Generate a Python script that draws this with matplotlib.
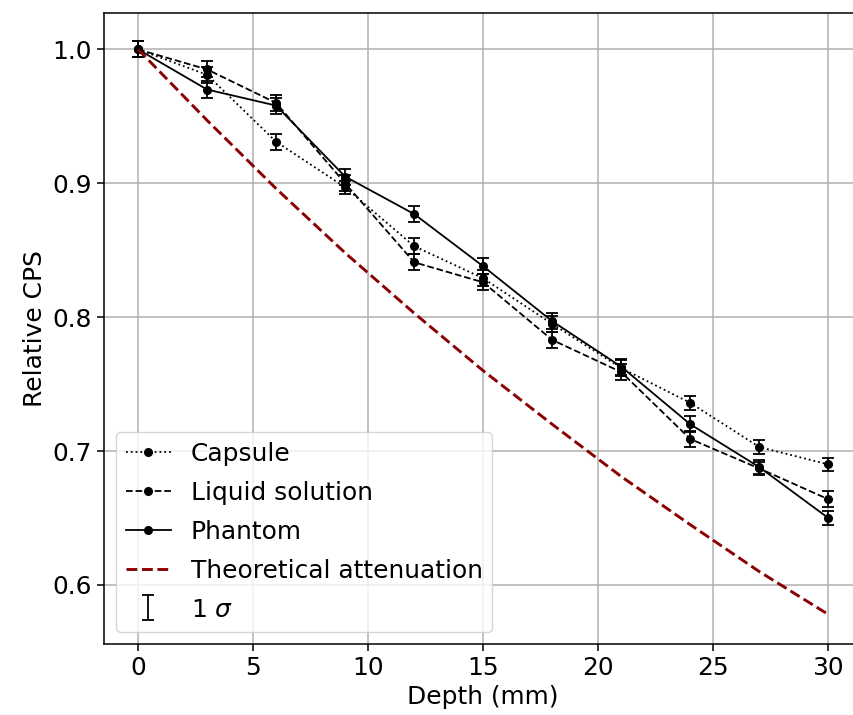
import numpy as np
import matplotlib.pyplot as plt

# Depth points (mm)
depth = [0, 3, 6, 9, 12, 15, 18, 21, 24, 27, 30]

# Relative CPS
capsule = [1.000, 0.981, 0.931, 0.897, 0.853, 0.829, 0.795, 0.762, 0.736, 0.703, 0.690]
capsule_err = [0.006, 0.006, 0.006, 0.005, 0.006, 0.006, 0.006, 0.006, 0.005, 0.005, 0.005]

liquid = [1.000, 0.985, 0.960, 0.900, 0.841, 0.826, 0.783, 0.759, 0.709, 0.687, 0.664]
liquid_err = [0.006, 0.006, 0.006, 0.006, 0.006, 0.006, 0.006, 0.006, 0.006, 0.005, 0.006]

phantom = [1.000, 0.970, 0.958, 0.905, 0.877, 0.838, 0.797, 0.763, 0.720, 0.688, 0.650]
phantom_err = [0.006, 0.006, 0.006, 0.006, 0.006, 0.006, 0.006, 0.006, 0.006, 0.005, 0.005]

# Theoretical attenuation curve (read at each depth point)
theo_depth = [0, 3, 6, 9, 12, 15, 18, 21, 24, 27, 30]
theo = [1.000, 0.947, 0.896, 0.848, 0.803, 0.760, 0.720, 0.681, 0.645, 0.610, 0.578]

plt.rcParams['font.size'] = 17.9

fig = plt.figure(figsize=(8.54, 7.15), dpi=100)
ax = fig.add_axes([0.1212, 0.0993, 0.8891, 0.8832])

series = [
    (capsule, capsule_err, ':', 'Capsule'),
    (liquid, liquid_err, '--', 'Liquid solution'),
    (phantom, phantom_err, '-', 'Phantom'),
]
for y, err, ls, name in series:
    ax.plot(depth, y, linestyle=ls, color='black', marker='o', ms=5.5,
            lw=1.3, label=name)
    ax.errorbar(depth, y, yerr=err, fmt='none', ecolor='black',
                elinewidth=1.3, capsize=4, capthick=1.3)

ax.plot(theo_depth, theo, '--', color='darkred', lw=2.1,
        label='Theoretical attenuation')

# dummy errorbar only for the legend entry
ax.errorbar([np.nan], [np.nan], yerr=[np.nan], fmt='none', ecolor='black',
            elinewidth=1.3, capsize=4, capthick=1.3, label=r'1 $\sigma$')

ax.set_xlim(-1.5, 31.5)
ax.set_ylim(0.5559, 1.0275)
ax.set_xticks([0, 5, 10, 15, 20, 25, 30])
ax.set_yticks([0.6, 0.7, 0.8, 0.9, 1.0])
ax.grid(True, color='#b0b0b0', lw=1.1)
ax.set_axisbelow(True)
ax.set_xlabel('Depth (mm)')
ax.set_ylabel('Relative CPS')
ax.tick_params(length=5, width=1.1)
for s in ax.spines.values():
    s.set_linewidth(1.1)

ax.legend(loc='lower left', handlelength=1.8, labelspacing=0.6)

fig.savefig('out.png', dpi=100)
